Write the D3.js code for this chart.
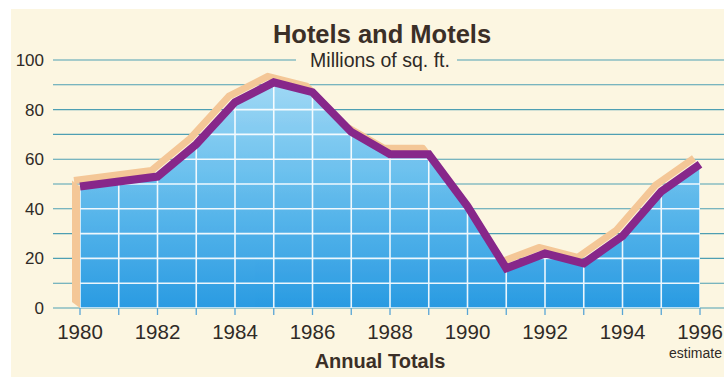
<!DOCTYPE html>
<html>
<head>
<meta charset="utf-8">
<script src="https://cdn.jsdelivr.net/npm/d3@7"></script>
<style>
  html, body { margin: 0; padding: 0; background: #ffffff; }
  svg { display: block; font-family: "Liberation Sans", Arial, Helvetica, sans-serif; }
</style>
</head>
<body>
<svg id="chart" width="724" height="385"></svg>
<script>
// Hotels and Motels – annual totals, millions of sq. ft.
const years = [1980, 1981, 1982, 1983, 1984, 1985, 1986, 1987, 1988,
               1989, 1990, 1991, 1992, 1993, 1994, 1995, 1996];
const values = [49, 51, 53, 66, 83, 91, 87, 71, 62,
                62, 41, 16, 22, 18, 29, 47, 58];
const yTickLabels = [0, 20, 40, 60, 80, 100];
const gridSteps = [0, 10, 20, 30, 40, 50, 60, 70, 80, 90, 100];
const xTickLabels = [1980, 1982, 1984, 1986, 1988, 1990, 1992, 1994, 1996];

const data = years.map((yr, i) => ({ year: yr, value: values[i] }));

const svg = d3.select("#chart");
const W = 724, H = 385;

const x = d3.scaleLinear().domain([1980, 1996]).range([80, 700]);
const y = d3.scaleLinear().domain([0, 100]).range([308, 60]);

// cream panel
svg.append("rect")
  .attr("x", 11).attr("y", 9)
  .attr("width", W - 11).attr("height", 368)
  .attr("fill", "#fcf6e1");

const defs = svg.append("defs");
const grad = defs.append("linearGradient")
  .attr("id", "blueFill")
  .attr("gradientUnits", "userSpaceOnUse")
  .attr("x1", 0).attr("y1", y(100)).attr("x2", 0).attr("y2", y(0));
grad.append("stop").attr("offset", "0%").attr("stop-color", "#addef6");
grad.append("stop").attr("offset", "45%").attr("stop-color", "#6dc1ee");
grad.append("stop").attr("offset", "100%").attr("stop-color", "#2a9be2");

const area = d3.area()
  .x(d => x(d.year))
  .y0(y(0))
  .y1(d => y(d.value));

const line = d3.line()
  .x(d => x(d.year))
  .y(d => y(d.value));

defs.append("clipPath").attr("id", "areaClip")
  .append("path").attr("d", area(data));

// teal horizontal rules across the panel
const gridLeft = 53, gridRight = W;
const subtitleGap = [296, 457];
const rules = svg.append("g").attr("stroke", "#4e9fb3").attr("stroke-width", 1.1);
gridSteps.forEach(v => {
  if (v === 100) {
    rules.append("line").attr("x1", gridLeft).attr("x2", subtitleGap[0])
      .attr("y1", y(v)).attr("y2", y(v));
    rules.append("line").attr("x1", subtitleGap[1]).attr("x2", gridRight)
      .attr("y1", y(v)).attr("y2", y(v));
  } else {
    rules.append("line").attr("x1", gridLeft).attr("x2", gridRight)
      .attr("y1", y(v)).attr("y2", y(v));
  }
});

// year ticks under the baseline
svg.append("g").attr("stroke", "#5aa6d6").attr("stroke-width", 1.3)
  .selectAll("line").data(years).join("line")
  .attr("x1", d => x(d)).attr("x2", d => x(d))
  .attr("y1", y(0)).attr("y2", y(0) + 7);

// peach extrusion behind the curve
const dx = -6, dy = -6;
const peach = "#f4c797";
svg.append("polygon")
  .attr("fill", peach)
  .attr("points", [
    [x(1980), y(0)], [x(1980) + dx - 2, y(0) + dy],
    [x(1980) + dx - 2, y(values[0]) + dy], [x(1980), y(values[0])]
  ].map(p => p.join(",")).join(" "));
svg.append("path")
  .attr("d", line(data))
  .attr("transform", `translate(${dx},${dy})`)
  .attr("fill", "none")
  .attr("stroke", peach)
  .attr("stroke-width", 7)
  .attr("stroke-linejoin", "round");

// blue area
svg.append("path")
  .attr("d", area(data))
  .attr("fill", "url(#blueFill)");

// white grid inside the area
const inner = svg.append("g")
  .attr("clip-path", "url(#areaClip)")
  .attr("stroke", "#ffffff").attr("stroke-width", 1.6).attr("opacity", 0.9);
gridSteps.forEach(v => {
  inner.append("line").attr("x1", x(1980)).attr("x2", x(1996))
    .attr("y1", y(v)).attr("y2", y(v));
});
years.forEach(yr => {
  inner.append("line").attr("x1", x(yr)).attr("x2", x(yr))
    .attr("y1", y(0)).attr("y2", y(100));
});

// purple curve
svg.append("path")
  .attr("d", line(data))
  .attr("fill", "none")
  .attr("stroke", "#87278a")
  .attr("stroke-width", 8)
  .attr("stroke-linejoin", "miter");

// y axis labels
svg.append("g").selectAll("text").data(yTickLabels).join("text")
  .attr("x", 44).attr("y", d => y(d))
  .attr("dy", "0.35em")
  .attr("text-anchor", "end")
  .attr("font-size", 17)
  .attr("fill", "#2f2a26")
  .text(d => d);

// x axis labels
svg.append("g").selectAll("text").data(xTickLabels).join("text")
  .attr("x", d => x(d)).attr("y", 339)
  .attr("text-anchor", "middle")
  .attr("font-size", 20.5)
  .attr("fill", "#2f2a26")
  .text(d => d);

svg.append("text")
  .attr("x", 722).attr("y", 358)
  .attr("text-anchor", "end")
  .attr("font-size", 14)
  .attr("fill", "#2f2a26")
  .text("estimate");

// titles
svg.append("text")
  .attr("x", 382).attr("y", 43)
  .attr("text-anchor", "middle")
  .attr("font-size", 25.5)
  .attr("font-weight", "bold")
  .attr("fill", "#3b2f27")
  .text("Hotels and Motels");

svg.append("text")
  .attr("x", 380).attr("y", 67)
  .attr("text-anchor", "middle")
  .attr("font-size", 19.5)
  .attr("fill", "#2f2a26")
  .text("Millions of sq. ft.");

svg.append("text")
  .attr("x", 380).attr("y", 368)
  .attr("text-anchor", "middle")
  .attr("font-size", 20)
  .attr("font-weight", "bold")
  .attr("fill", "#3b2f27")
  .text("Annual Totals");
</script>
</body>
</html>
